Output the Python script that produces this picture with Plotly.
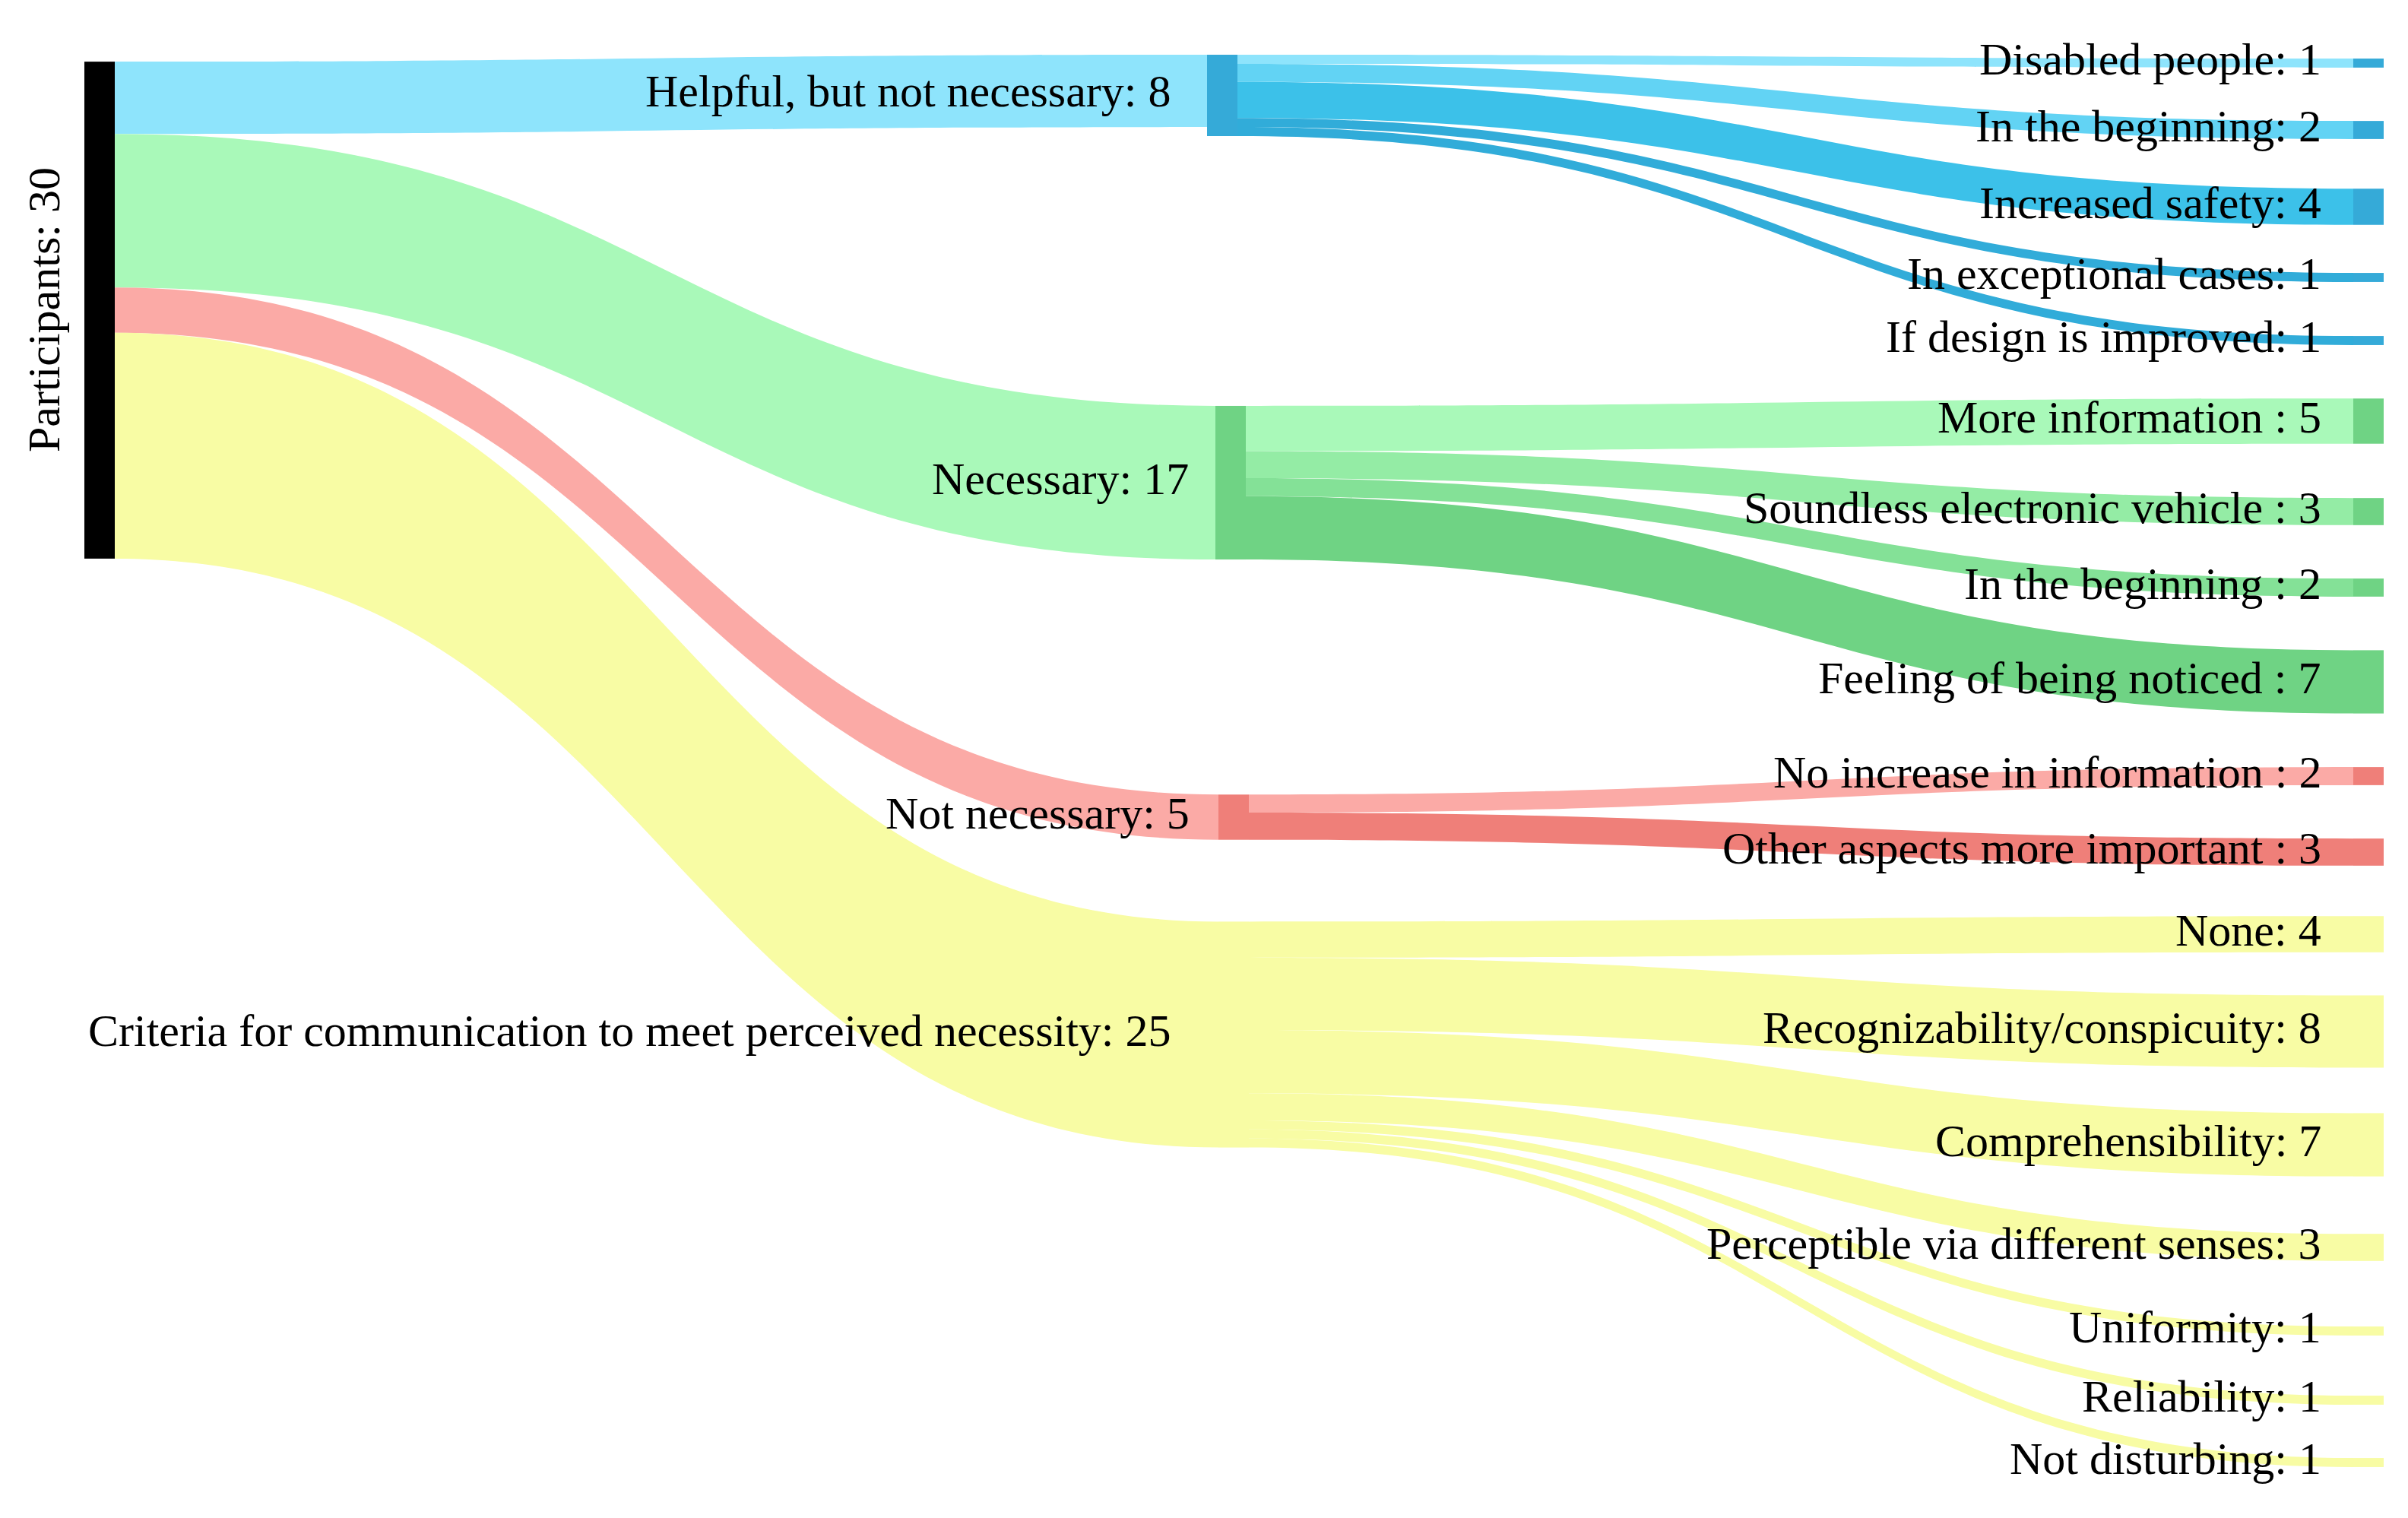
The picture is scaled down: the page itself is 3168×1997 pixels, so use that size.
import plotly.graph_objects as go

# ---------------- data ----------------
node_labels = [
    "Participants: 30",
    "Helpful, but not necessary: 8",
    "Necessary: 17",
    "Not necessary: 5",
    "Criteria for communication to meet perceived necessity: 25",
    "Disabled people: 1",
    "In the beginning: 2",
    "Increased safety: 4",
    "In exceptional cases: 1",
    "If design is improved: 1",
    "More information : 5",
    "Soundless electronic vehicle : 3",
    "In the beginning : 2",
    "Feeling of being noticed : 7",
    "No increase in information : 2",
    "Other aspects more important : 3",
    "None: 4",
    "Recognizability/conspicuity: 8",
    "Comprehensibility: 7",
    "Perceptible via different senses: 3",
    "Uniformity: 1",
    "Reliability: 1",
    "Not disturbing: 1",
]

link_source = [0, 0, 0, 0,
               1, 1, 1, 1, 1,
               2, 2, 2, 2,
               3, 3,
               4, 4, 4, 4, 4, 4, 4]
link_target = [1, 2, 3, 4,
               5, 6, 7, 8, 9,
               10, 11, 12, 13,
               14, 15,
               16, 17, 18, 19, 20, 21, 22]
link_value = [8, 17, 5, 25,
              1, 2, 4, 1, 1,
              5, 3, 2, 7,
              2, 3,
              4, 8, 7, 3, 1, 1, 1]

# ---------------- layout / style ----------------
W, H = 3168, 1997
THICK = 40
FONT = "Liberation Serif"
FSIZE = 60
Y_SHIFT = -7      # global vertical correction (px)
LABEL_DY = -5     # extra upward shift of label text (px)

# node centres in pixels (layout only)
node_x_px = [123, 1600, 1611, 1615, 1615] + [3108] * 18
node_y_px = [407, 124.5, 634, 1074, 1360,
             82, 170, 271, 364, 447,
             553, 672, 772, 896,
             1020, 1120,
             1228, 1356, 1505, 1640, 1750, 1841, 1923]
# gap between label end and node's left edge (px)
label_gap = [0, 45, 33, 36, 60] + [40] * 18

BLUE_N, GREEN_N, RED_N, YEL = "#35aad8", "#6fd384", "#ef7f79", "#f8fca4"
node_colors = ["#000000", BLUE_N, GREEN_N, RED_N, YEL] + [BLUE_N] * 5 + [GREEN_N] * 4 + [RED_N] * 2 + [YEL] * 7
link_colors = ["#8ee4fc", "#a9f9b9", "#fbaaa6", YEL,
               "#8ee4fc", "#62d3f4", "#3cc1e9", "#31acd9", "#31acd9",
               "#a9f9b9", "#94eca5", "#84e197", "#6fd384",
               "#fbaaa6", "#ef7f79",
               YEL, YEL, YEL, YEL, YEL, YEL, YEL]

ys = [v + Y_SHIFT for v in node_y_px]

fig = go.Figure(go.Sankey(
    arrangement="fixed",
    domain=dict(x=[0, 1], y=[0, 1]),
    node=dict(
        label=[""] * len(node_labels),
        x=[v / W for v in node_x_px],
        y=[v / H for v in ys],
        pad=88,
        thickness=THICK,
        color=node_colors,
        line=dict(width=0),
        hoverinfo="none",
    ),
    link=dict(source=link_source, target=link_target, value=link_value,
              color=link_colors, hoverinfo="none"),
))

annotations = []
for i, lab in enumerate(node_labels):
    ly = 1 - (ys[i] + LABEL_DY) / H
    if i == 0:
        annotations.append(dict(
            text=lab, textangle=-90, xref="paper", yref="paper",
            x=50 / W, y=1 - ys[i] / H, xanchor="center", yanchor="middle",
            showarrow=False, font=dict(family=FONT, size=FSIZE, color="black")))
    else:
        annotations.append(dict(
            text=lab, xref="paper", yref="paper",
            x=(node_x_px[i] - THICK / 2 - label_gap[i]) / W, y=ly,
            xanchor="right", yanchor="middle",
            showarrow=False, font=dict(family=FONT, size=FSIZE, color="black")))

fig.update_layout(
    width=W, height=H,
    margin=dict(l=0, r=0, t=0, b=0),
    paper_bgcolor="white", plot_bgcolor="white",
    annotations=annotations,
    font=dict(family=FONT, size=FSIZE, color="black"),
)

fig.write_html("out.html")
